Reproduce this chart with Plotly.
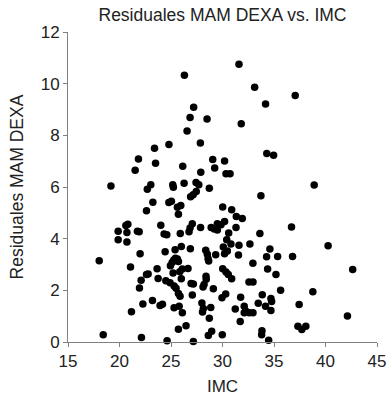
import plotly.graph_objects as go

imc = [
    26.3, 27.2, 26.85, 28.5, 26.56, 24.8, 23.4, 27.85, 21.84, 23.5,
    21.52, 26.14, 29.05, 29.24, 27.89, 19.17, 23.04, 25.17, 25.23, 26.27,
    27.43, 27.7, 28.72, 22.7, 31.6, 33.12, 37.06, 34.18, 31.82, 34.3,
    34.96, 30.2, 30.34, 30.73, 38.9,
    23.24, 24.79, 25.04, 25.62, 25.95, 22.62, 25.72, 20.62, 20.81, 19.87,
    20.72, 21.74, 21.91, 24.01, 24.33, 24.59, 19.87, 20.72, 25.9, 22.0,
    24.43, 25.4, 18.03, 26.0, 26.88, 27.45, 27.15, 26.9, 33.73, 30.02,
    30.89, 31.34, 31.92, 27.07, 26.85, 26.75, 27.87, 28.9, 29.2, 29.5,
    29.5, 29.85, 30.2, 31.31, 30.6, 33.63, 36.7, 30.41, 30.82, 31.6,
    32.66, 30.08, 30.47, 30.2, 29.34, 28.37, 28.53, 28.6, 28.66, 31.55,
    34.6, 34.28, 35.35, 36.8, 32.95, 40.25, 25.11, 25.27, 25.43, 25.62,
    25.72, 24.94, 21.07, 26.1, 26.65, 25.2, 25.85, 26.0, 22.1, 21.94,
    22.62, 22.78, 23.65, 23.75, 22.27, 23.2, 23.94, 24.17, 21.16, 18.42,
    22.13, 24.62, 27.17, 25.72, 26.46, 25.3, 25.79, 26.1, 27.07, 28.0,
    28.14, 28.06, 28.86, 28.72, 28.62, 28.95, 24.5, 24.91, 25.3, 25.49,
    25.72, 25.88, 26.95, 27.17, 28.4, 28.42, 28.11, 28.21, 29.11, 30.02,
    30.34, 30.56, 30.89, 34.38, 35.19, 42.64, 32.57, 32.96, 35.64, 38.77,
    30.31, 29.95, 31.76, 33.86, 34.7, 34.77, 33.47, 34.18, 34.7, 37.44,
    31.24, 32.11, 32.25, 32.11, 32.6, 32.96, 31.72, 42.13, 37.32, 37.7,
    38.09, 33.83, 33.8, 29.98, 34.48,
]

residuales = [
    10.33, 9.09, 8.69, 8.63, 8.17, 7.65, 7.5, 7.70, 7.08, 6.92,
    6.65, 6.80, 7.06, 6.74, 6.57, 6.04, 6.09, 6.09, 5.99, 6.15,
    6.17, 6.09, 5.95, 5.91, 10.75, 9.86, 9.54, 9.21, 8.45, 7.30,
    7.23, 7.01, 6.51, 6.51, 6.08,
    5.41, 5.40, 5.45, 5.22, 5.28, 5.08, 4.95, 4.51, 4.56, 4.29,
    4.24, 4.29, 4.27, 4.52, 4.18, 4.15, 3.96, 3.87, 4.20, 3.42,
    3.49, 3.57, 3.15, 3.70, 3.61, 5.83, 5.70, 5.62, 5.66, 5.23,
    5.12, 4.86, 4.78, 4.58, 4.41, 4.27, 4.43, 4.43, 4.37, 4.34,
    4.58, 4.54, 4.66, 4.43, 4.22, 4.20, 4.45, 3.96, 3.79, 3.75,
    3.79, 3.68, 3.52, 3.42, 3.38, 3.55, 3.40, 3.22, 3.14, 3.37,
    3.60, 3.30, 3.31, 3.31, 3.05, 3.73, 3.08, 3.17, 3.24, 3.21,
    3.12, 2.95, 2.90, 2.83, 2.85, 2.67, 2.72, 2.45, 2.39, 2.09,
    2.61, 2.63, 2.84, 2.46, 1.47, 1.61, 1.41, 1.46, 1.17, 0.28,
    0.17, 0.05, 0.02, 0.49, 0.63, 1.33, 1.38, 1.13, 1.82, 1.51,
    1.30, 1.16, 1.34, 0.92, 0.25, 0.42, 2.37, 2.29, 2.17, 2.08,
    1.88, 1.77, 2.26, 2.25, 2.55, 2.43, 2.13, 2.23, 2.06, 2.84,
    2.71, 2.61, 2.45, 2.83, 2.61, 2.81, 2.32, 2.32, 2.0, 1.95,
    1.86, 1.71, 1.73, 1.83, 1.68, 1.57, 1.50, 1.38, 1.22, 1.45,
    1.28, 1.38, 1.20, 1.13, 1.13, 1.13, 0.79, 1.01, 0.61, 0.48,
    0.61, 0.44, 0.28, 0.28, 0.07,
]

x_ticks = [15, 20, 25, 30, 35, 40, 45]
y_ticks = [0, 2, 4, 6, 8, 10, 12]

FONT = "Liberation Sans, Arial, sans-serif"

fig = go.Figure(
    go.Scatter(
        x=imc, y=residuales, mode="markers",
        marker=dict(color="black", size=7.5, line=dict(width=0)),
        cliponaxis=False, hoverinfo="skip",
    )
)

fig.update_layout(
    width=388, height=396,
    margin=dict(l=68, r=11, t=32, b=54, autoexpand=False),
    paper_bgcolor="white", plot_bgcolor="white",
    showlegend=False,
    font=dict(family=FONT, size=17, color="#222"),
    title=dict(text="Residuales MAM DEXA vs. IMC", x=0.5, xref="paper",
               y=0.962, yref="container", yanchor="middle",
               font=dict(size=17.5, family=FONT, color="#222")),
)

axis_common = dict(
    showgrid=False, zeroline=False, showline=True, automargin=False,
    linecolor="#808080", linewidth=1,
    ticks="outside", ticklen=4, tickcolor="#808080", tickwidth=1,
    tickfont=dict(size=17, family=FONT, color="#222"),
)

fig.update_xaxes(range=[15, 45], tickvals=x_ticks, ticktext=[str(t) for t in x_ticks],
                 title=dict(text="IMC", standoff=14, font=dict(size=17)), **axis_common)
fig.update_yaxes(range=[0, 12], tickvals=y_ticks, ticktext=[str(t) for t in y_ticks],
                 title=dict(text="Residuales MAM DEXA", standoff=12, font=dict(size=17.5)), **axis_common)

fig.write_html("out.html")
